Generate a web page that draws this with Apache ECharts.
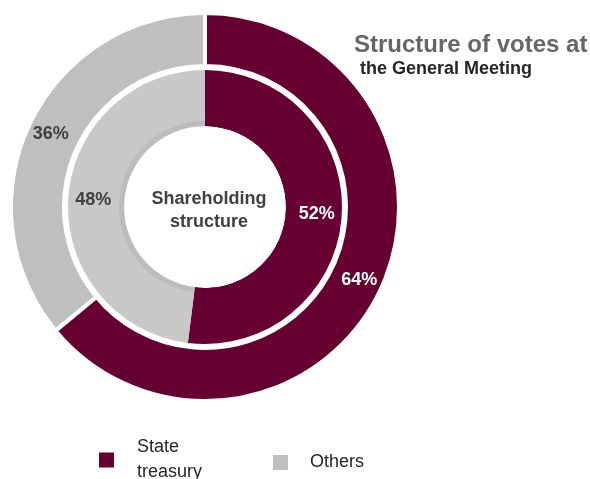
<!DOCTYPE html>
<html>
<head>
<meta charset="utf-8">
<script src="https://cdn.jsdelivr.net/npm/echarts@6/dist/echarts.min.js"></script>
<style>
  html, body { margin: 0; padding: 0; background: #fff; }
  #chart { width: 590px; height: 479px; }
</style>
</head>
<body>
<div id="chart"></div>
<script>
// Shareholders and their shares
const categories = ['State treasury', 'Others'];
const votesShare = [64, 36];        // outer ring: votes at the General Meeting
const holdingShare = [52, 48];      // inner ring: shareholding structure

const MAROON = '#660033';
const GREY_OUTER = '#bfbfbf';
const GREY_INNER = '#c8c8c8';
const FONT = '"Liberation Sans", Arial, sans-serif';
const CENTER = [205, 207];

const chart = echarts.init(document.getElementById('chart'));

const pct = p => p.value + '%';

const legendText = { fontFamily: FONT, fontSize: 18, color: '#262626', lineHeight: 25 };
const legendIcon = { borderWidth: 0 };

chart.setOption({
  animation: false,
  textStyle: { fontFamily: FONT },
  title: [
    {
      text: 'Structure of votes at',
      left: 354, top: 33, padding: 0,
      textStyle: { fontFamily: FONT, fontSize: 24, fontWeight: 'bold', color: '#666666' }
    },
    {
      text: 'the General Meeting',
      left: 360, top: 60, padding: 0,
      textStyle: { fontFamily: FONT, fontSize: 18, fontWeight: 'bold', color: '#262626' }
    }
  ],
  legend: [
    {
      left: 99, top: 423, padding: 0,
      itemWidth: 15, itemHeight: 15,
      icon: 'rect',
      itemStyle: legendIcon,
      data: [categories[0]],
      formatter: () => 'State\ntreasury',
      textStyle: Object.assign({ padding: [0, 0, 24, 18] }, legendText)
    },
    {
      left: 273, top: 441, padding: 0,
      itemWidth: 15, itemHeight: 15,
      icon: 'rect',
      itemStyle: legendIcon,
      data: [categories[1]],
      textStyle: Object.assign({ padding: [0, 0, 18, 17] }, legendText)
    }
  ],
  graphic: [{
    type: 'text',
    x: 209, y: 211,
    silent: true,
    style: {
      text: 'Shareholding\nstructure',
      align: 'center', verticalAlign: 'middle',
      fontFamily: FONT, fontSize: 18, fontWeight: 'bold', fill: '#404040', lineHeight: 23
    }
  }],
  series: [
    {
      name: 'votes',
      type: 'pie',
      center: CENTER,
      radius: [141, 194],
      startAngle: 90,
      clockwise: true,
      silent: true,
      itemStyle: { borderColor: '#fff', borderWidth: 4 },
      label: {
        position: 'inside', formatter: pct,
        fontFamily: FONT, fontSize: 18, fontWeight: 'bold'
      },
      labelLine: { show: false },
      data: categories.map((name, i) => ({
        name, value: votesShare[i],
        itemStyle: { color: i === 0 ? MAROON : GREY_OUTER },
        label: { color: i === 0 ? '#ffffff' : '#404040' }
      }))
    },
    {
      name: 'holding',
      type: 'pie',
      center: CENTER,
      radius: [81, 137],
      startAngle: 90,
      clockwise: true,
      silent: true,
      label: {
        position: 'inside', formatter: pct,
        fontFamily: FONT, fontSize: 18, fontWeight: 'bold'
      },
      labelLine: { show: false },
      data: categories.map((name, i) => ({
        name, value: holdingShare[i],
        itemStyle: { color: i === 0 ? MAROON : GREY_INNER },
        label: { color: i === 0 ? '#ffffff' : '#404040' }
      }))
    },
    {
      // shaded rim of the inner ring around the centre hole
      name: 'holding-rim',
      type: 'pie',
      center: CENTER,
      radius: [81, 86],
      startAngle: 90,
      clockwise: true,
      silent: true,
      label: { show: false },
      labelLine: { show: false },
      data: categories.map((name, i) => ({
        name, value: holdingShare[i],
        itemStyle: { color: i === 0 ? MAROON : '#bcbcbc' }
      }))
    }
  ]
});
</script>
</body>
</html>
